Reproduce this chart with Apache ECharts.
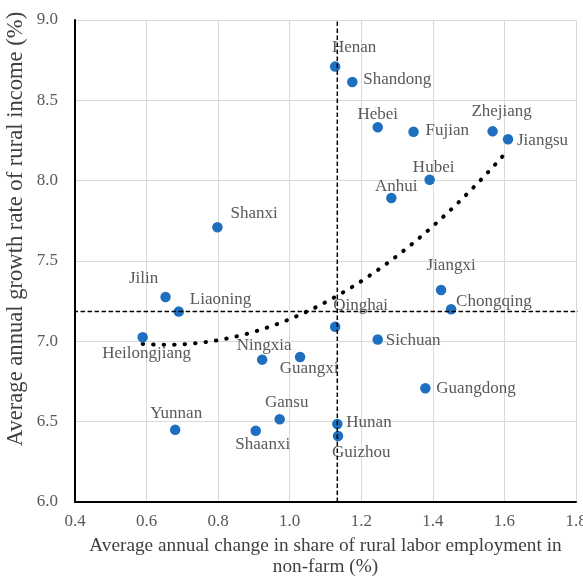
<!DOCTYPE html>
<html>
<head>
<meta charset="utf-8">
<script src="https://cdn.jsdelivr.net/npm/echarts@6/dist/echarts.min.js"></script>
<style>
  html, body { margin: 0; padding: 0; background: #ffffff; }
  #chart { width: 583px; height: 579px; }
</style>
</head>
<body>
<div id="chart"></div>
<script>
// Provinces and their two indicators (%)
const provinces = [
  'Henan', 'Shandong', 'Hebei', 'Fujian', 'Zhejiang', 'Jiangsu', 'Hubei', 'Anhui',
  'Shanxi', 'Jilin', 'Liaoning', 'Heilongjiang', 'Ningxia', 'Guangxi', 'Gansu', 'Shaanxi',
  'Yunnan', 'Jiangxi', 'Chongqing', 'Qinghai', 'Sichuan', 'Guangdong', 'Hunan', 'Guizhou'
];
const laborShareChange = [
  1.127, 1.175, 1.246, 1.346, 1.567, 1.610, 1.391, 1.284,
  0.798, 0.653, 0.690, 0.589, 0.923, 1.029, 0.972, 0.905,
  0.680, 1.423, 1.451, 1.127, 1.246, 1.379, 1.133, 1.135
];
const incomeGrowth = [
  8.710, 8.614, 8.332, 8.305, 8.307, 8.258, 8.006, 7.892,
  7.710, 7.276, 7.185, 7.025, 6.886, 6.903, 6.515, 6.444,
  6.449, 7.320, 7.200, 7.090, 7.011, 6.708, 6.486, 6.411
];
// Reference levels drawn as dashed cross-hairs
const refLaborShareChange = 1.133;
const refIncomeGrowth = 7.185;

const xTitle = 'Average annual change in share of rural labor employment in\nnon-farm (%)';
const yTitle = 'Average annual growth rate of rural income (%)';

// Label anchor per province: [align, dx, dy] relative to the marker centre
const labelPlacement = {
  Henan: ['center', 19, -19], Shandong: ['left', 11, -2], Hebei: ['center', 0, -13],
  Fujian: ['left', 12, -1], Zhejiang: ['center', 9, -20], Jiangsu: ['left', 9, 1],
  Hubei: ['center', 4, -12], Anhui: ['center', 5, -11], Shanxi: ['left', 13, -14],
  Jilin: ['center', -22, -18], Liaoning: ['left', 11, -12], Heilongjiang: ['center', 4, 16],
  Ningxia: ['center', 2, -14], Guangxi: ['center', 9, 12], Gansu: ['center', 7, -17],
  Shaanxi: ['center', 7, 14], Yunnan: ['center', 1, -16], Jiangxi: ['center', 10, -24],
  Chongqing: ['left', 5, -8], Qinghai: ['left', -2, -21], Sichuan: ['left', 8, 1],
  Guangdong: ['left', 11, 0], Hunan: ['left', 9, -1], Guizhou: ['left', -6, 17]
};

// Second-order least-squares trend line through the provinces
function quadraticFit(xs, ys) {
  const S = [0, 0, 0, 0, 0], T = [0, 0, 0];
  xs.forEach((x, i) => {
    let p = 1;
    for (let k = 0; k < 5; k++) { S[k] += p; if (k < 3) T[k] += p * ys[i]; p *= x; }
  });
  const M = [
    [S[0], S[1], S[2], T[0]],
    [S[1], S[2], S[3], T[1]],
    [S[2], S[3], S[4], T[2]]
  ];
  for (let c = 0; c < 3; c++) {
    for (let r = c + 1; r < 3; r++) {
      const f = M[r][c] / M[c][c];
      for (let k = c; k < 4; k++) M[r][k] -= f * M[c][k];
    }
  }
  const b = [0, 0, 0];
  for (let r = 2; r >= 0; r--) {
    let s = M[r][3];
    for (let k = r + 1; k < 3; k++) s -= M[r][k] * b[k];
    b[r] = s / M[r][r];
  }
  return b;
}
const coef = quadraticFit(laborShareChange, incomeGrowth);
const xMin = Math.min(...laborShareChange), xMax = Math.max(...laborShareChange);
const trendPoints = [];
for (let i = 0; i <= 120; i++) {
  const x = xMin + (xMax - xMin) * i / 120;
  trendPoints.push([x, coef[0] + coef[1] * x + coef[2] * x * x]);
}

const FONT = 'Liberation Serif, Times New Roman, serif';
const GREY = '#595959';
const TITLE_GREY = '#404040';

const scatterData = provinces.map((name, i) => {
  const [align, dx, dy] = labelPlacement[name];
  return {
    name: name,
    value: [laborShareChange[i], incomeGrowth[i]],
    label: { align: align, offset: [dx, dy] }
  };
});

const chart = echarts.init(document.getElementById('chart'), null, { renderer: 'canvas' });
chart.setOption({
  animation: false,
  backgroundColor: '#ffffff',
  grid: { left: 75, right: 7, top: 20, bottom: 77, containLabel: false, outerBoundsMode: 'none' },
  graphic: [{
    type: 'text',
    x: 16, y: 229,
    rotation: Math.PI / 2,
    style: {
      text: yTitle, fontFamily: FONT, fontSize: 22.6, fill: TITLE_GREY,
      align: 'center', verticalAlign: 'middle'
    }
  }],
  xAxis: {
    type: 'value', min: 0.4, max: 1.8, interval: 0.2,
    name: xTitle,
    nameLocation: 'middle', nameGap: 33,
    nameTextStyle: { fontFamily: FONT, fontSize: 19.3, color: TITLE_GREY, lineHeight: 21 },
    axisLine: { show: true, lineStyle: { color: '#000000', width: 2 } },
    axisTick: { show: false },
    axisLabel: { fontFamily: FONT, fontSize: 17, color: GREY, margin: 11,
      formatter: v => v.toFixed(1) },
    splitLine: { show: true, lineStyle: { color: '#d9d9d9', width: 1 } }
  },
  yAxis: {
    type: 'value', min: 6, max: 9, interval: 0.5,
    axisLine: { show: true, lineStyle: { color: '#000000', width: 2 } },
    axisTick: { show: false },
    axisLabel: { fontFamily: FONT, fontSize: 17, color: GREY, margin: 17,
      formatter: v => v.toFixed(1) },
    splitLine: { show: true, lineStyle: { color: '#d9d9d9', width: 1 } }
  },
  series: [
    {
      type: 'line',
      data: trendPoints,
      showSymbol: false,
      smooth: false,
      z: 3,
      lineStyle: { color: '#000000', width: 4, type: [0.5, 10], cap: 'round' }
    },
    {
      type: 'scatter',
      data: scatterData,
      symbol: 'circle',
      symbolSize: 10.5,
      z: 4,
      itemStyle: { color: '#1f6fc0', opacity: 1 },
      label: {
        show: true, position: 'inside', verticalAlign: 'middle',
        formatter: p => p.name,
        fontFamily: FONT, fontSize: 17, color: GREY
      }
    },
    {
      type: 'line',
      data: [[refLaborShareChange, 6], [refLaborShareChange, 9]],
      showSymbol: false, clip: false, z: 5,
      lineStyle: { color: '#000000', width: 1.5, type: [4.5, 2.5] }
    },
    {
      type: 'line',
      data: [[0.396, refIncomeGrowth], [1.82, refIncomeGrowth]],
      showSymbol: false, clip: false, z: 5,
      lineStyle: { color: '#000000', width: 1.5, type: [4.5, 2.5] }
    }
  ]
});
</script>
</body>
</html>
